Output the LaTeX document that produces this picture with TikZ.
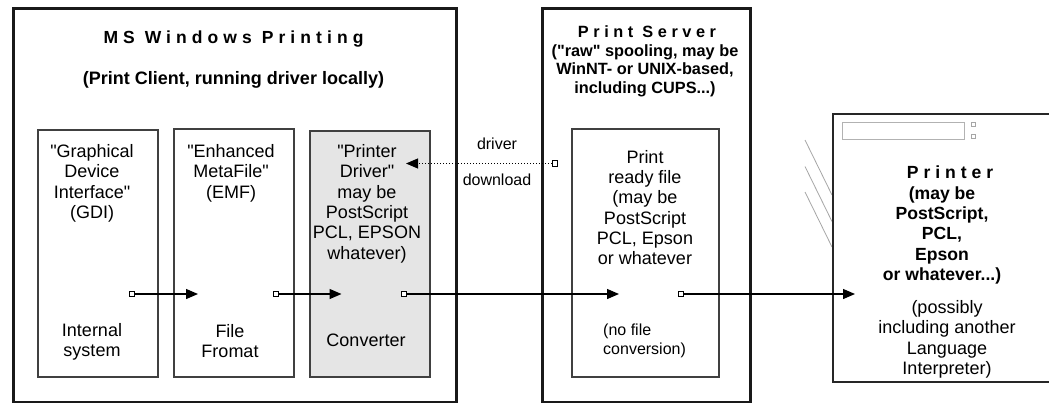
\documentclass[tikz,border=0pt]{standalone}
\usepackage{fontspec}
\setmainfont{Liberation Sans}
\usetikzlibrary{arrows.meta}

\begin{document}
\begin{tikzpicture}[x=1pt, y=-1pt,
    frame/.style={draw=black!90, line width=3pt, inner sep=0pt, anchor=north west},
    stage/.style={draw=black!75, line width=1.8pt, inner sep=0pt, anchor=north west},
    port/.style={draw, fill=white, line width=1.1pt, minimum size=5.5pt, inner sep=0pt},
    flow/.style={line width=1.3pt, -{Triangle[length=12pt,width=10pt]}},
    txt/.style={font=\fontsize{18}{20.3}\selectfont, align=center, anchor=north, inner sep=0pt},
    small/.style={font=\fontsize{16}{18.5}\selectfont, align=center, anchor=north, inner sep=0pt},
    heavy/.style={font=\fontsize{18}{20.3}\selectfont\bfseries, align=center, anchor=north, inner sep=0pt},
    tracked/.style={font=\fontsize{17.5}{20}\selectfont\bfseries\addfontfeature{LetterSpace=29}, anchor=north, inner sep=0pt}
  ]
  \useasboundingbox[fill=white] (0,0) rectangle (1049,402);

  % client side
  \node[frame, minimum width=443pt, minimum height=394pt] (client) at (12,7) {};
  \node[tracked] (clienttitle) at (233.5,30.2) {MS Windows Printing};
  \node[heavy] (clientsub) at (233.5,71.6) {(Print Client, running driver locally)};

  \node[stage, minimum width=120pt, minimum height=247pt] (gdi) at (37,129) {};
  \node[stage, minimum width=120pt, minimum height=248pt] (emf) at (173,128) {};
  \node[stage, fill=black!10, minimum width=120pt, minimum height=246pt] (drv) at (309,130) {};

  \node[txt] (gditext) at (92,144.3) {\textquotedbl Graphical\\Device\\Interface\textquotedbl\\(GDI)};
  \node[txt] (gdiname) at (92,323.3) {Internal\\system};
  \node[txt] (emftext) at (231,144.3) {\textquotedbl Enhanced\\MetaFile\textquotedbl\\(EMF)};
  \node[txt] (emfname) at (230,324.3) {File\\Fromat};
  \node[txt] (drvtext) at (367,144.3) {\textquotedbl Printer\\Driver\textquotedbl\\may be\\PostScript\\PCL, EPSON\\whatever)};
  \node[txt] (drvname) at (366,333.3) {Converter};

  % print server
  \node[frame, minimum width=208pt, minimum height=394pt] (server) at (541,7) {};
  \node[tracked, font=\fontsize{16.3}{18.5}\selectfont\bfseries\addfontfeature{LetterSpace=28}] (servertitle) at (647,25.7) {Print Server};
  \node[heavy, font=\fontsize{16.3}{18.7}\selectfont\bfseries] (serversub) at (645,44) {(\textquotedbl raw\textquotedbl\ spooling, may be\\WinNT- or UNIX-based,\\including CUPS...)};
  \node[stage, minimum width=147pt, minimum height=248pt] (spool) at (571,128) {};
  \node[txt] (spooltext) at (645,150) {Print\\ready file\\(may be\\PostScript\\PCL, Epson\\or whatever};
  \node[small, align=left, anchor=north west] (spoolname) at (603,324) {(no file\\conversion)};

  % printer
  \foreach \y in {140,166.5,192}
    \draw[black!35, line width=0.8pt] (805,\y) -- (832,{\y+55});
  \node[draw=black!85, fill=white, line width=1.5pt, inner sep=0pt, anchor=north west,
        minimum width=260pt, minimum height=268pt] (printer) at (832,113.3) {};
  \node[draw=black!30, line width=1.2pt, inner sep=0pt, anchor=north west,
        minimum width=122pt, minimum height=17pt] (display) at (842,122) {};
  \node[draw=black!35, line width=0.8pt, minimum size=4pt, inner sep=0pt] (ledtop) at (973,124) {};
  \node[draw=black!35, line width=0.8pt, minimum size=4pt, inner sep=0pt] (ledbot) at (973,136) {};
  \node[tracked, font=\fontsize{17.6}{20}\selectfont\bfseries\addfontfeature{LetterSpace=28}] (printertitle) at (950,165.2) {Printer};
  \node[heavy, font=\fontsize{17.6}{20.3}\selectfont\bfseries] (printertext) at (942,186.2) {(may be\\PostScript,\\PCL,\\Epson\\or whatever...)};
  \node[txt, font=\fontsize{18}{20.5}\selectfont] (printername) at (947,300) {(possibly\\including another\\Language\\Interpreter)};

  % data path
  \node[port] (gdiout) at (132,294) {};
  \coordinate (emfin) at (198,294);
  \node[port] (emfout) at (276,294) {};
  \coordinate (drvin) at (341.5,294);
  \node[port] (drvout) at (404,294) {};
  \coordinate (spoolin) at (619,294);
  \node[port] (spoolout) at (681,294) {};
  \coordinate (printerin) at (855,294);
  \draw[flow] (gdiout) -- (emfin);
  \draw[flow] (emfout) -- (drvin);
  \draw[flow] (drvout) -- (spoolin);
  \draw[flow] (spoolout) -- (printerin);

  % driver download
  \node[port] (dlsrc) at (555,163.5) {};
  \coordinate (dltip) at (406,163.5);
  \draw[flow, line width=1pt, dotted] (dlsrc) -- (dltip);
  \node[small] (dltop) at (497,137.4) {driver};
  \node[small] (dlbot) at (497,174) {download};
\end{tikzpicture}
\end{document}
